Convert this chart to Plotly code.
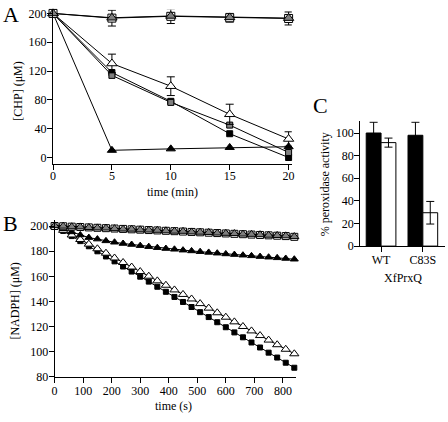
import plotly.graph_objects as go

W, H = 448, 422
FONT = "Liberation Serif"

# ---------------- Panel A data ----------------
time_min = [0, 5, 10, 15, 20]
a_open_square = [200, 193.5, 196, 194, 193]
a_open_square_err = [0, 11, 10, 6, 9]
a_gray_triangle = [200, 194, 196.5, 194.5, 193.5]
a_open_triangle = [200, 130.5, 99, 60, 25.7]
a_open_triangle_err = [0, 13, 13, 14, 10]
a_gray_square = [200, 114, 76.5, 45, 7]
a_black_square = [200, 118, 78, 33, 0]
a_black_triangle = [200, 10, 12, 14, 15]
a_yticks = [0, 40, 80, 120, 160, 200]
a_xticks = [0, 5, 10, 15, 20]

# ---------------- Panel B data ----------------
time_s = [0, 30, 60, 90, 120, 150, 180, 210, 240, 270, 300, 330, 360, 390, 420,
          450, 480, 510, 540, 570, 600, 630, 660, 690, 720, 750, 780, 810, 840]
b_open_square = [200.0, 199.8, 199.5, 199.2, 198.9, 198.6, 198.3, 198.0, 197.7, 197.4,
                 197.1, 196.8, 196.5, 196.2, 195.9, 195.6, 195.3, 195.0, 194.7, 194.4,
                 194.1, 193.8, 193.5, 193.2, 192.9, 192.6, 192.3, 192.0, 191.4]
b_gray_triangle = [200.3, 199.9, 199.4, 199.3, 198.8, 198.5, 198.4, 197.9, 197.6, 197.5,
                   197.0, 196.8, 196.6, 196.2, 195.9, 195.8, 195.3, 195.1, 194.9, 194.4,
                   194.2, 194.0, 193.6, 193.4, 193.1, 192.7, 192.5, 192.2, 191.6]
b_black_triangle = [200.0, 197.8, 195.3, 192.9, 190.8, 189.6, 188.2, 187.1, 186.1, 185.3,
                    184.4, 183.6, 182.8, 182.1, 181.5, 180.8, 180.2, 179.6, 179.0, 178.4,
                    177.8, 177.3, 176.8, 176.3, 175.7, 175.2, 174.7, 174.2, 173.6]
b_open_triangle = [200.0, 196.6, 192.9, 189.3, 185.6, 181.9, 178.4, 174.6, 171.0, 167.4,
                   163.8, 160.1, 156.4, 152.9, 149.2, 145.6, 142.0, 138.3, 134.7, 131.0,
                   127.5, 123.8, 120.1, 116.6, 112.9, 109.3, 105.6, 102.0, 98.4]
b_black_square = [200.0, 196.1, 192.0, 188.0, 183.9, 179.9, 175.8, 171.9, 167.8, 163.8,
                  159.7, 155.8, 151.7, 147.7, 143.6, 139.6, 135.6, 131.5, 127.6, 123.5,
                  119.5, 115.4, 111.5, 107.4, 103.4, 99.3, 95.4, 91.3, 87.3]
b_yticks = [80, 100, 120, 140, 160, 180, 200]
b_xticks = [0, 100, 200, 300, 400, 500, 600, 700, 800]

# ---------------- Panel C data ----------------
c_categories = ["WT", "C83S"]
c_black = [100, 98]
c_black_err = [9.5, 11.5]
c_white = [91.5, 29.5]
c_white_err = [4, 10]
c_yticks = [0, 20, 40, 60, 80, 100]

GRAY = "#7f7f7f"
LINE = dict(color="black", width=1)


def px_x(p):
    return p / W


def px_y(p):
    return 1 - p / H


fig = go.Figure()

# ---- Panel A traces ----
def a_trace(y, symbol, fill, size, err=None):
    kw = {}
    if err is not None:
        kw["error_y"] = dict(type="data", array=err, visible=True, color="black",
                             thickness=1, width=4)
    fig.add_trace(go.Scatter(
        x=time_min, y=y, mode="lines+markers", xaxis="x", yaxis="y",
        line=LINE,
        marker=dict(symbol=symbol, size=size, color=fill,
                    line=dict(color="black", width=1)),
        showlegend=False, cliponaxis=False, **kw))

a_trace(a_black_square, "square", "black", 6)
a_trace(a_gray_square, "square", GRAY, 6)
a_trace(a_open_triangle, "triangle-up", "white", 9, a_open_triangle_err)
a_trace(a_black_triangle, "triangle-up", "black", 8)
a_trace(a_open_square, "square", "white", 8, a_open_square_err)
a_trace(a_gray_triangle, "triangle-up", GRAY, 9)

# ---- Panel B traces ----
def b_trace(y, symbol, fill, size):
    fig.add_trace(go.Scatter(
        x=time_s, y=y, mode="lines+markers", xaxis="x2", yaxis="y2",
        line=LINE,
        marker=dict(symbol=symbol, size=size, color=fill,
                    line=dict(color="black", width=1)),
        showlegend=False, cliponaxis=False))

b_trace(b_black_square, "square", "black", 5)
b_trace(b_open_triangle, "triangle-up", "white", 8)
b_trace(b_black_triangle, "triangle-up", "black", 7)
b_trace(b_open_square, "square", "white", 7)
b_trace(b_gray_triangle, "triangle-up", GRAY, 8)

# ---- Panel C traces ----
fig.add_trace(go.Bar(
    x=c_categories, y=c_black, xaxis="x3", yaxis="y3",
    marker=dict(color="black", line=dict(color="black", width=1)),
    error_y=dict(type="data", array=c_black_err, color="black", thickness=1, width=4),
    showlegend=False))
fig.add_trace(go.Bar(
    x=c_categories, y=c_white, xaxis="x3", yaxis="y3",
    marker=dict(color="white", line=dict(color="black", width=1)),
    error_y=dict(type="data", array=c_white_err, color="black", thickness=1, width=4),
    showlegend=False))

axis_common = dict(showline=True, linecolor="black", linewidth=1, ticks="outside",
                   ticklen=5, tickcolor="black", tickwidth=1, showgrid=False,
                   zeroline=False, mirror=False,
                   tickfont=dict(family=FONT, size=12, color="black"))

fig.update_layout(
    width=W, height=H,
    margin=dict(l=0, r=0, t=0, b=0),
    paper_bgcolor="white", plot_bgcolor="white",
    barmode="group", bargap=0.29, bargroupgap=0,
    font=dict(family=FONT, size=12, color="black"),
    xaxis=dict(domain=[px_x(50.7), px_x(292.7)], range=[0, 20.27], anchor="y",
               tickvals=a_xticks, ticklabelstandoff=-4, **axis_common),
    yaxis=dict(domain=[px_y(164.9), px_y(7)], range=[-9, 205], anchor="x",
               tickvals=a_yticks, ticklabelstandoff=-2, **axis_common),
    xaxis2=dict(domain=[px_x(52.3), px_x(296.7)], range=[0, 845], anchor="y2",
                tickvals=b_xticks, ticklabelstandoff=-2, **axis_common),
    yaxis2=dict(domain=[px_y(383), px_y(222)], range=[80, 205], anchor="x2",
                tickvals=b_yticks, ticklabelstandoff=-2, **axis_common),
    xaxis3=dict(domain=[px_x(362), 1.0], range=[-0.5, 1.53], anchor="y3",
                type="category", ticklabelstandoff=-2, **axis_common),
    yaxis3=dict(domain=[px_y(249), px_y(121)], range=[0, 110.5], anchor="x3",
                tickvals=c_yticks, ticklabelstandoff=-2, **axis_common),
)

def ann(text, x, y, size=12, angle=0):
    fig.add_annotation(text=text, x=px_x(x), y=px_y(y), xref="paper", yref="paper",
                       showarrow=False, xanchor="center", yanchor="middle",
                       textangle=angle, font=dict(family=FONT, size=size, color="black"))

ann("A", 8, 12, size=22)
ann("B", 8, 226, size=22)
ann("C", 322, 105, size=22)
ann("[CHP] (μM)", 15, 90, angle=-90)
ann("time (min)", 172, 194)
ann("[NADPH] (μM)", 12, 305, angle=-90)
ann("time (s)", 173, 413)
ann("% peroxidase activity", 326, 186, angle=-90)
ann("XfPrxQ", 405, 282)

fig.write_html("out.html",
               config={"displayModeBar": False},
               post_script="document.body.style.margin='0px';"
                           "document.body.style.overflow='hidden';")
